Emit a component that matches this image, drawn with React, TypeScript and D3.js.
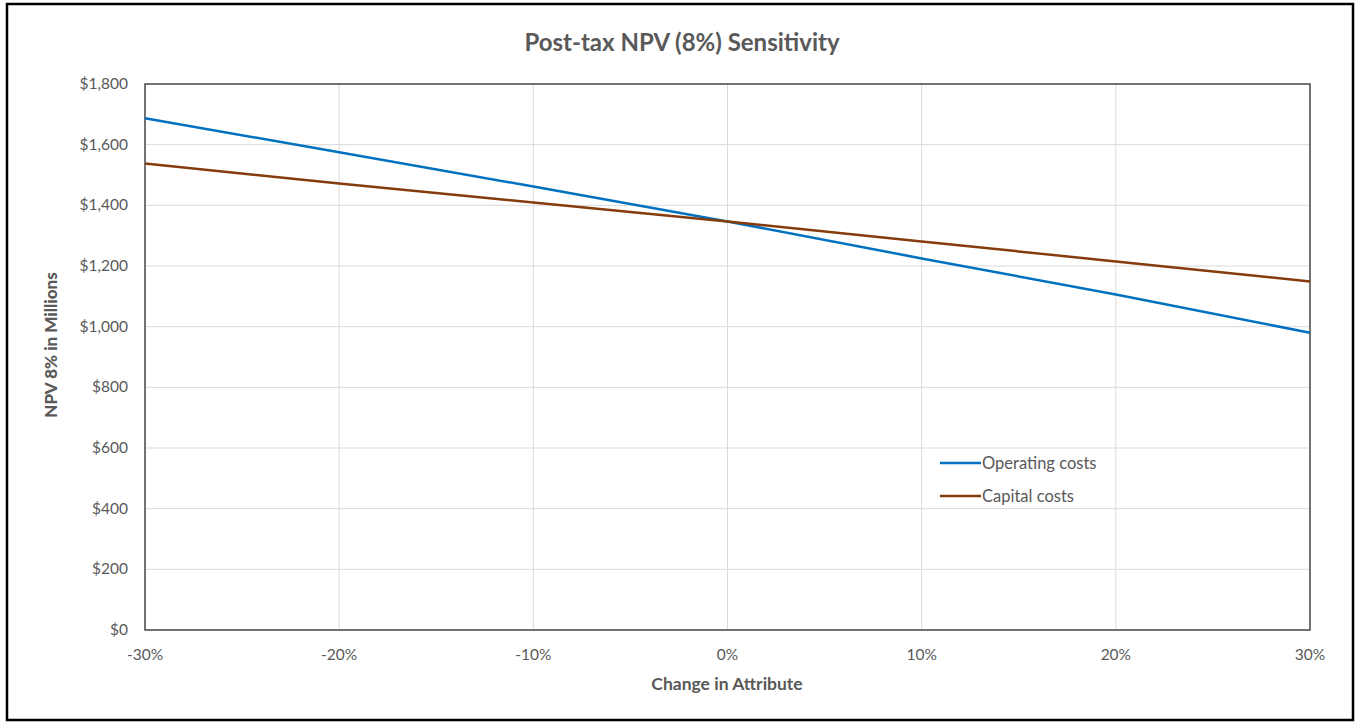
import React from "react";
import * as d3 from "d3";

const changes = [-0.3, -0.2, -0.1, 0, 0.1, 0.2, 0.3];
const operatingCosts = [1687, 1575, 1462, 1347, 1225, 1106, 980];
const capitalCosts = [1538, 1472, 1409, 1347, 1281, 1215, 1149];
const yTicks = [0, 200, 400, 600, 800, 1000, 1200, 1400, 1600, 1800];
const seriesNames = ["Operating costs", "Capital costs"];
const seriesColors = ["#0070C0", "#843C0C"];

const W = 1358;
const H = 723;
const M = { left: 145, right: 1310, top: 84, bottom: 630 };
const FONT = "Lato, 'Open Sans', sans-serif";
const GREY = "#595959";

export default function App() {
  const x = d3.scaleLinear().domain([-0.3, 0.3]).range([M.left, M.right]);
  const y = d3.scaleLinear().domain([0, 1800]).range([M.bottom, M.top]);
  const line = d3
    .line<number>()
    .x((_, i) => x(changes[i]))
    .y((d) => y(d));
  const series = [operatingCosts, capitalCosts];
  const fmtY = (v: number) => "$" + d3.format(",")(v);
  const fmtX = (v: number) => Math.round(v * 100) + "%";

  return (
    <svg
      width={W}
      height={H}
      style={{ position: "absolute", left: 0, top: 0, background: "#fff" }}
      fontFamily={FONT}
    >
      <rect x={0} y={0} width={W} height={H} fill="#fff" />
      <rect x={7} y={4} width={1346} height={716} fill="#fff" stroke="#000" strokeWidth={2.5} />
      <text x={682} y={51} textAnchor="middle" fontSize={24} fontWeight="bold" fill={GREY}>
        Post-tax NPV (8%) Sensitivity
      </text>
      {yTicks.map((t) => (
        <line key={"gy" + t} x1={M.left} x2={M.right} y1={y(t)} y2={y(t)} stroke="#D9D9D9" strokeWidth={1} />
      ))}
      {changes.map((c) => (
        <line key={"gx" + c} x1={x(c)} x2={x(c)} y1={M.top} y2={M.bottom} stroke="#D9D9D9" strokeWidth={1} />
      ))}
      <rect
        x={M.left}
        y={M.top}
        width={M.right - M.left}
        height={M.bottom - M.top}
        fill="none"
        stroke="#333"
        strokeWidth={1.3}
      />
      {yTicks.map((t) => (
        <text key={"ty" + t} x={128} y={y(t) + 5} textAnchor="end" fontSize={15.5} fill={GREY}>
          {fmtY(t)}
        </text>
      ))}
      {changes.map((c) => (
        <text key={"tx" + c} x={x(c)} y={660} textAnchor="middle" fontSize={15.5} fill={GREY}>
          {fmtX(c)}
        </text>
      ))}
      <text x={727} y={690} textAnchor="middle" fontSize={17.5} fontWeight="bold" fill={GREY}>
        Change in Attribute
      </text>
      <text
        transform={`translate(57, ${345}) rotate(-90)`}
        textAnchor="middle"
        fontSize={17}
        fontWeight="900"
        fill={GREY}
      >
        NPV 8% in  Millions
      </text>
      {series.map((s, i) => (
        <path key={"s" + i} d={line(s) || ""} fill="none" stroke={seriesColors[i]} strokeWidth={2.5} />
      ))}
      {seriesNames.map((n, i) => (
        <g key={"lg" + i} transform={`translate(940, ${463 + i * 33})`}>
          <line x1={0} x2={41} y1={0} y2={0} stroke={seriesColors[i]} strokeWidth={2.5} />
          <text x={42} y={5.5} fontSize={16.5} fill={GREY}>
            {n}
          </text>
        </g>
      ))}
    </svg>
  );
}
